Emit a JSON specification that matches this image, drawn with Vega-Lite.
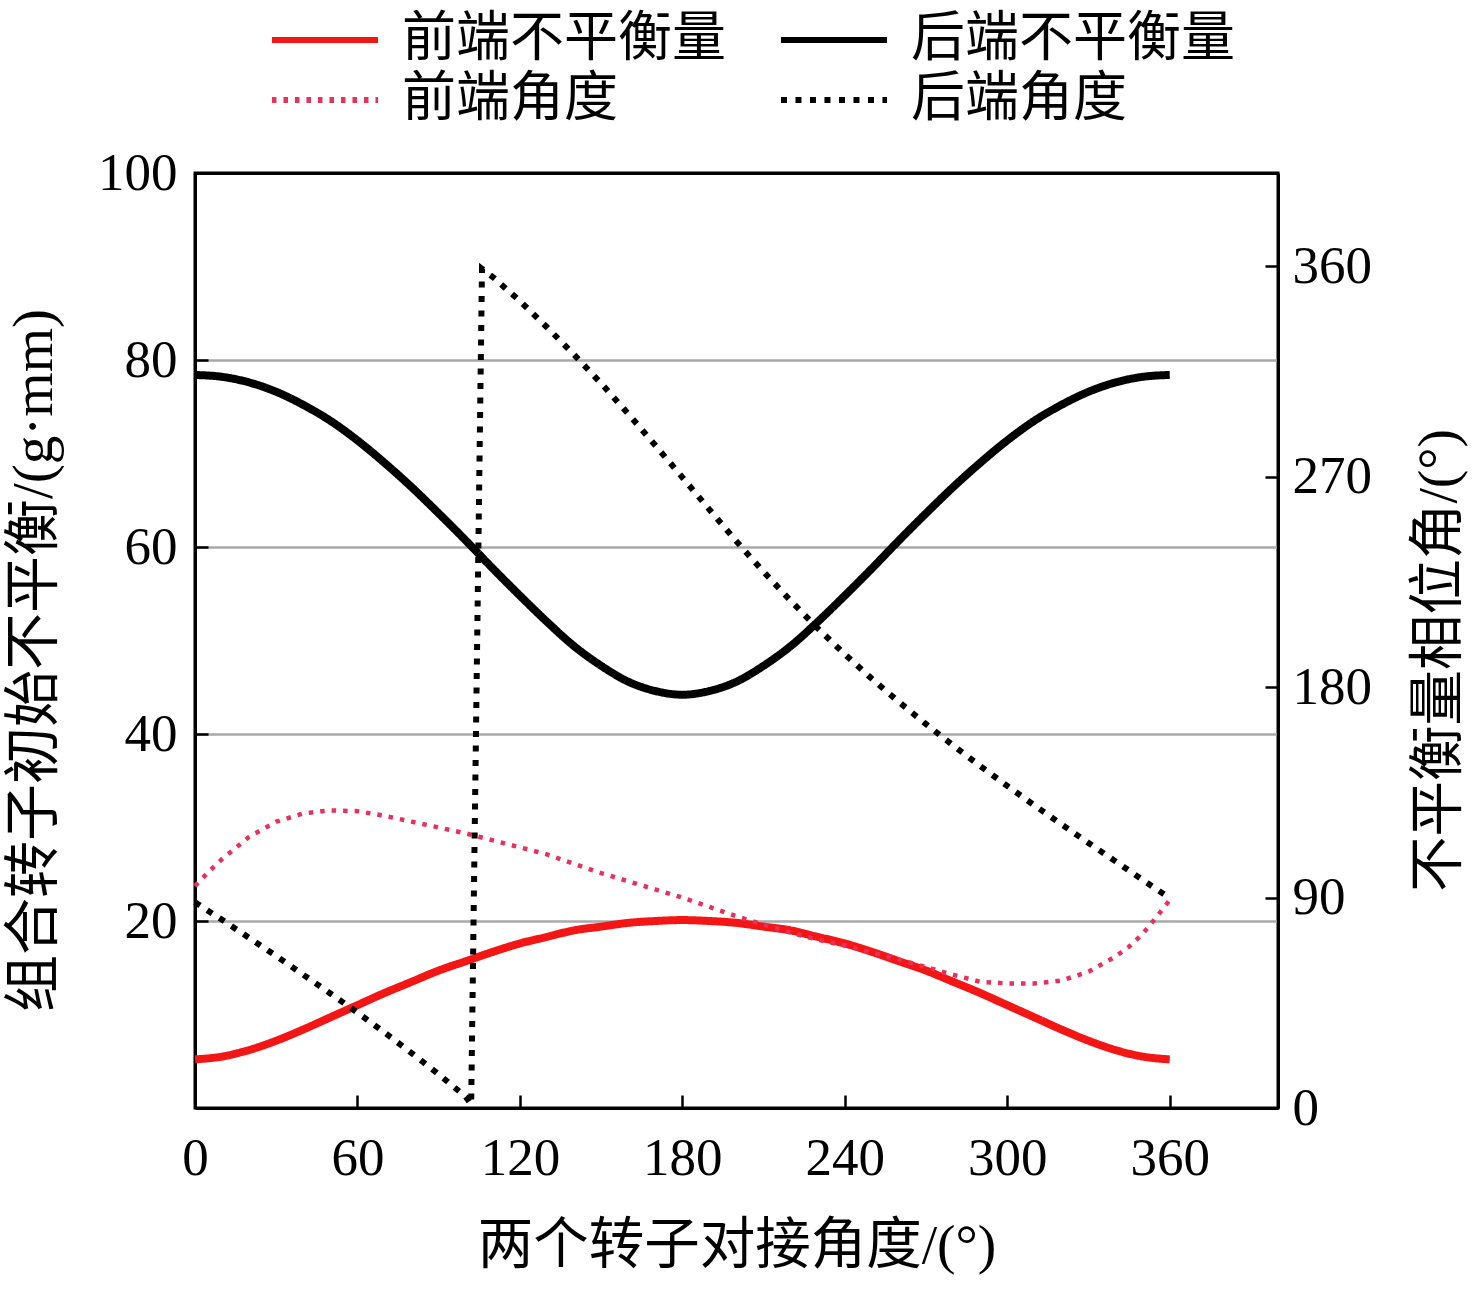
{
  "$schema": "https://vega.github.io/schema/vega-lite/v6.json",
  "description": "Combined rotor initial unbalance and phase angle vs. docking angle of two rotors",
  "width": 1083,
  "height": 935,
  "autosize": {"type": "none"},
  "padding": {"left": 195, "top": 173, "right": 198, "bottom": 184},
  "background": "white",
  "data": {
    "values": [
      {"series": "前端不平衡量", "x": 0, "v": 5.2},
      {"series": "前端不平衡量", "x": 10, "v": 5.5},
      {"series": "前端不平衡量", "x": 20, "v": 6.2},
      {"series": "前端不平衡量", "x": 30, "v": 7.2},
      {"series": "前端不平衡量", "x": 40, "v": 8.4},
      {"series": "前端不平衡量", "x": 50, "v": 9.7},
      {"series": "前端不平衡量", "x": 60, "v": 11.0},
      {"series": "前端不平衡量", "x": 70, "v": 12.3},
      {"series": "前端不平衡量", "x": 80, "v": 13.5},
      {"series": "前端不平衡量", "x": 90, "v": 14.7},
      {"series": "前端不平衡量", "x": 100, "v": 15.7},
      {"series": "前端不平衡量", "x": 110, "v": 16.7},
      {"series": "前端不平衡量", "x": 120, "v": 17.6},
      {"series": "前端不平衡量", "x": 130, "v": 18.3},
      {"series": "前端不平衡量", "x": 140, "v": 19.0},
      {"series": "前端不平衡量", "x": 150, "v": 19.4},
      {"series": "前端不平衡量", "x": 160, "v": 19.8},
      {"series": "前端不平衡量", "x": 170, "v": 20.0},
      {"series": "前端不平衡量", "x": 180, "v": 20.1},
      {"series": "前端不平衡量", "x": 190, "v": 20.0},
      {"series": "前端不平衡量", "x": 200, "v": 19.8},
      {"series": "前端不平衡量", "x": 210, "v": 19.4},
      {"series": "前端不平衡量", "x": 220, "v": 19.0},
      {"series": "前端不平衡量", "x": 230, "v": 18.3},
      {"series": "前端不平衡量", "x": 240, "v": 17.6},
      {"series": "前端不平衡量", "x": 250, "v": 16.7},
      {"series": "前端不平衡量", "x": 260, "v": 15.7},
      {"series": "前端不平衡量", "x": 270, "v": 14.7},
      {"series": "前端不平衡量", "x": 280, "v": 13.5},
      {"series": "前端不平衡量", "x": 290, "v": 12.3},
      {"series": "前端不平衡量", "x": 300, "v": 11.0},
      {"series": "前端不平衡量", "x": 310, "v": 9.7},
      {"series": "前端不平衡量", "x": 320, "v": 8.4},
      {"series": "前端不平衡量", "x": 330, "v": 7.2},
      {"series": "前端不平衡量", "x": 340, "v": 6.2},
      {"series": "前端不平衡量", "x": 350, "v": 5.5},
      {"series": "前端不平衡量", "x": 360, "v": 5.2},
      {"series": "后端不平衡量", "x": 0, "v": 78.4},
      {"series": "后端不平衡量", "x": 10, "v": 78.2},
      {"series": "后端不平衡量", "x": 20, "v": 77.6},
      {"series": "后端不平衡量", "x": 30, "v": 76.6},
      {"series": "后端不平衡量", "x": 40, "v": 75.2},
      {"series": "后端不平衡量", "x": 50, "v": 73.5},
      {"series": "后端不平衡量", "x": 60, "v": 71.4},
      {"series": "后端不平衡量", "x": 70, "v": 69.0},
      {"series": "后端不平衡量", "x": 80, "v": 66.4},
      {"series": "后端不平衡量", "x": 90, "v": 63.6},
      {"series": "后端不平衡量", "x": 100, "v": 60.7},
      {"series": "后端不平衡量", "x": 110, "v": 57.7},
      {"series": "后端不平衡量", "x": 120, "v": 54.8},
      {"series": "后端不平衡量", "x": 130, "v": 52.0},
      {"series": "后端不平衡量", "x": 140, "v": 49.4},
      {"series": "后端不平衡量", "x": 150, "v": 47.3},
      {"series": "后端不平衡量", "x": 160, "v": 45.6},
      {"series": "后端不平衡量", "x": 170, "v": 44.6},
      {"series": "后端不平衡量", "x": 180, "v": 44.2},
      {"series": "后端不平衡量", "x": 190, "v": 44.6},
      {"series": "后端不平衡量", "x": 200, "v": 45.6},
      {"series": "后端不平衡量", "x": 210, "v": 47.3},
      {"series": "后端不平衡量", "x": 220, "v": 49.4},
      {"series": "后端不平衡量", "x": 230, "v": 52.0},
      {"series": "后端不平衡量", "x": 240, "v": 54.8},
      {"series": "后端不平衡量", "x": 250, "v": 57.7},
      {"series": "后端不平衡量", "x": 260, "v": 60.7},
      {"series": "后端不平衡量", "x": 270, "v": 63.6},
      {"series": "后端不平衡量", "x": 280, "v": 66.4},
      {"series": "后端不平衡量", "x": 290, "v": 69.0},
      {"series": "后端不平衡量", "x": 300, "v": 71.4},
      {"series": "后端不平衡量", "x": 310, "v": 73.5},
      {"series": "后端不平衡量", "x": 320, "v": 75.2},
      {"series": "后端不平衡量", "x": 330, "v": 76.6},
      {"series": "后端不平衡量", "x": 340, "v": 77.6},
      {"series": "后端不平衡量", "x": 350, "v": 78.2},
      {"series": "后端不平衡量", "x": 360, "v": 78.4},
      {"series": "前端角度", "x": 0, "v": 95},
      {"series": "前端角度", "x": 5, "v": 101},
      {"series": "前端角度", "x": 10, "v": 106.5},
      {"series": "前端角度", "x": 20, "v": 116},
      {"series": "前端角度", "x": 30, "v": 122.5},
      {"series": "前端角度", "x": 40, "v": 126},
      {"series": "前端角度", "x": 50, "v": 127.3},
      {"series": "前端角度", "x": 60, "v": 127},
      {"series": "前端角度", "x": 70, "v": 125},
      {"series": "前端角度", "x": 80, "v": 122.5},
      {"series": "前端角度", "x": 90, "v": 120},
      {"series": "前端角度", "x": 100, "v": 117.5},
      {"series": "前端角度", "x": 110, "v": 114.5},
      {"series": "前端角度", "x": 120, "v": 111.5},
      {"series": "前端角度", "x": 130, "v": 108.5},
      {"series": "前端角度", "x": 140, "v": 104.5},
      {"series": "前端角度", "x": 150, "v": 100.5},
      {"series": "前端角度", "x": 160, "v": 97},
      {"series": "前端角度", "x": 170, "v": 93.5},
      {"series": "前端角度", "x": 180, "v": 90},
      {"series": "前端角度", "x": 190, "v": 86},
      {"series": "前端角度", "x": 200, "v": 82},
      {"series": "前端角度", "x": 210, "v": 78.5},
      {"series": "前端角度", "x": 220, "v": 75},
      {"series": "前端角度", "x": 230, "v": 72},
      {"series": "前端角度", "x": 240, "v": 69.5},
      {"series": "前端角度", "x": 250, "v": 66.5},
      {"series": "前端角度", "x": 260, "v": 63.5},
      {"series": "前端角度", "x": 270, "v": 60.3},
      {"series": "前端角度", "x": 280, "v": 57},
      {"series": "前端角度", "x": 290, "v": 54},
      {"series": "前端角度", "x": 300, "v": 53.3},
      {"series": "前端角度", "x": 310, "v": 53.3},
      {"series": "前端角度", "x": 320, "v": 54.5},
      {"series": "前端角度", "x": 330, "v": 58.3},
      {"series": "前端角度", "x": 340, "v": 64.8},
      {"series": "前端角度", "x": 345, "v": 69},
      {"series": "前端角度", "x": 350, "v": 74.5},
      {"series": "前端角度", "x": 355, "v": 81.5},
      {"series": "前端角度", "x": 360, "v": 89},
      {"series": "后端角度", "x": 0, "v": 88.0},
      {"series": "后端角度", "x": 10, "v": 80.5},
      {"series": "后端角度", "x": 20, "v": 72.8},
      {"series": "后端角度", "x": 30, "v": 65.0},
      {"series": "后端角度", "x": 40, "v": 57.0},
      {"series": "后端角度", "x": 50, "v": 49.0},
      {"series": "后端角度", "x": 60, "v": 40.8},
      {"series": "后端角度", "x": 70, "v": 32.3},
      {"series": "后端角度", "x": 80, "v": 23.5},
      {"series": "后端角度", "x": 90, "v": 14.4},
      {"series": "后端角度", "x": 100, "v": 4.8},
      {"series": "后端角度", "x": 102, "v": 1.5},
      {"series": "后端角度", "x": 106, "v": 359},
      {"series": "后端角度", "x": 110, "v": 355.5},
      {"series": "后端角度", "x": 120, "v": 345.2},
      {"series": "后端角度", "x": 130, "v": 334},
      {"series": "后端角度", "x": 140, "v": 322.3},
      {"series": "后端角度", "x": 150, "v": 310},
      {"series": "后端角度", "x": 160, "v": 297},
      {"series": "后端角度", "x": 170, "v": 283.5},
      {"series": "后端角度", "x": 180, "v": 269.8},
      {"series": "后端角度", "x": 190, "v": 256},
      {"series": "后端角度", "x": 200, "v": 242.4},
      {"series": "后端角度", "x": 210, "v": 229.4},
      {"series": "后端角度", "x": 220, "v": 217},
      {"series": "后端角度", "x": 230, "v": 205.2},
      {"series": "后端角度", "x": 240, "v": 194.1},
      {"series": "后端角度", "x": 250, "v": 183.6},
      {"series": "后端角度", "x": 260, "v": 173.7},
      {"series": "后端角度", "x": 270, "v": 164.2},
      {"series": "后端角度", "x": 280, "v": 155.1},
      {"series": "后端角度", "x": 290, "v": 146.3},
      {"series": "后端角度", "x": 300, "v": 137.8},
      {"series": "后端角度", "x": 310, "v": 129.5},
      {"series": "后端角度", "x": 320, "v": 121.4},
      {"series": "后端角度", "x": 330, "v": 113.4},
      {"series": "后端角度", "x": 340, "v": 105.5},
      {"series": "后端角度", "x": 350, "v": 97.6},
      {"series": "后端角度", "x": 360, "v": 89.8}
    ]
  },
  "encoding": {
    "x": {
      "field": "x",
      "type": "quantitative",
      "scale": {"domain": [0, 400], "nice": false},
      "axis": {
        "values": [0, 60, 120, 180, 240, 300, 360],
        "title": "两个转子对接角度/(°)",
        "labelPadding": 37,
        "titlePadding": 33
      }
    },
    "color": {
      "field": "series",
      "type": "nominal",
      "scale": {
        "domain": ["前端不平衡量", "前端角度", "后端不平衡量", "后端角度"],
        "range": ["#f41515", "#e8305a", "#000000", "#000000"]
      },
      "legend": {
        "orient": "none",
        "legendX": 103,
        "legendY": -160,
        "columns": 2,
        "columnPadding": 42,
        "rowPadding": 6,
        "title": null,
        "symbolType": "M-5,0H5",
        "symbolSize": 450,
        "symbolStrokeWidth": 6,
        "labelOffset": 50,
        "labelLimit": 0,
        "labelFont": "Liberation Serif, Noto Sans CJK SC",
        "labelFontSize": 54,
        "labelColor": "black",
        "padding": 0
      }
    },
    "strokeDash": {
      "field": "series",
      "type": "nominal",
      "scale": {
        "domain": ["前端不平衡量", "前端角度", "后端不平衡量", "后端角度"],
        "range": [[1, 0], [4.5, 7], [1, 0], [6, 8.5]]
      }
    }
  },
  "layer": [
    {
      "encoding": {
        "y": {
          "field": "v",
          "type": "quantitative",
          "scale": {"domain": [0, 100], "nice": false},
          "axis": {
            "orient": "left",
            "values": [20, 40, 60, 80, 100],
            "grid": true,
            "gridColor": {"condition": {"test": "datum.value === 100", "value": "black"}, "value": "#a9a9a9"},
            "gridWidth": {"condition": {"test": "datum.value === 100", "value": 3}, "value": 2.5},
            "title": "组合转子初始不平衡/(g·mm)",
            "titleFontSize": 57,
            "titleY": 487,
            "labelPadding": 31,
            "titlePadding": 34
          }
        }
      },
      "layer": [
        {
          "transform": [{"filter": "datum.series === '前端不平衡量'"}],
          "mark": {"type": "line", "interpolate": "monotone", "strokeWidth": 8}
        },
        {
          "transform": [{"filter": "datum.series === '后端不平衡量'"}],
          "mark": {"type": "line", "interpolate": "monotone", "strokeWidth": 8}
        }
      ]
    },
    {
      "encoding": {
        "y": {
          "field": "v",
          "type": "quantitative",
          "scale": {"domain": [0, 400], "nice": false},
          "axis": {
            "orient": "right",
            "values": [0, 90, 180, 270, 360],
            "grid": false,
            "title": "不平衡量相位角/(°)",
            "titleAngle": -90,
            "titleBaseline": "top",
            "titleY": 487,
            "labelPadding": 27,
            "titlePadding": 40
          }
        }
      },
      "layer": [
        {
          "transform": [{"filter": "datum.series === '前端角度'"}],
          "mark": {"type": "line", "interpolate": "linear", "strokeWidth": 4.5}
        },
        {
          "transform": [{"filter": "datum.series === '后端角度'"}],
          "mark": {"type": "line", "interpolate": "linear", "strokeWidth": 6}
        }
      ]
    }
  ],
  "resolve": {"scale": {"y": "independent"}},
  "config": {
    "view": {"stroke": "black", "strokeWidth": 3},
    "axis": {
      "domainColor": "black",
      "domainWidth": 3,
      "tickColor": "black",
      "tickWidth": 2.5,
      "tickSize": -13,
      "grid": false,
      "gridColor": "#a9a9a9",
      "gridWidth": 2.5,
      "labelFlush": false,
      "labelFont": "Liberation Serif",
      "labelFontSize": 53,
      "labelColor": "black",
      "titleFont": "Liberation Serif, Noto Sans CJK SC",
      "titleFontSize": 55.5,
      "titleFontWeight": "normal",
      "titleColor": "black"
    }
  }
}
